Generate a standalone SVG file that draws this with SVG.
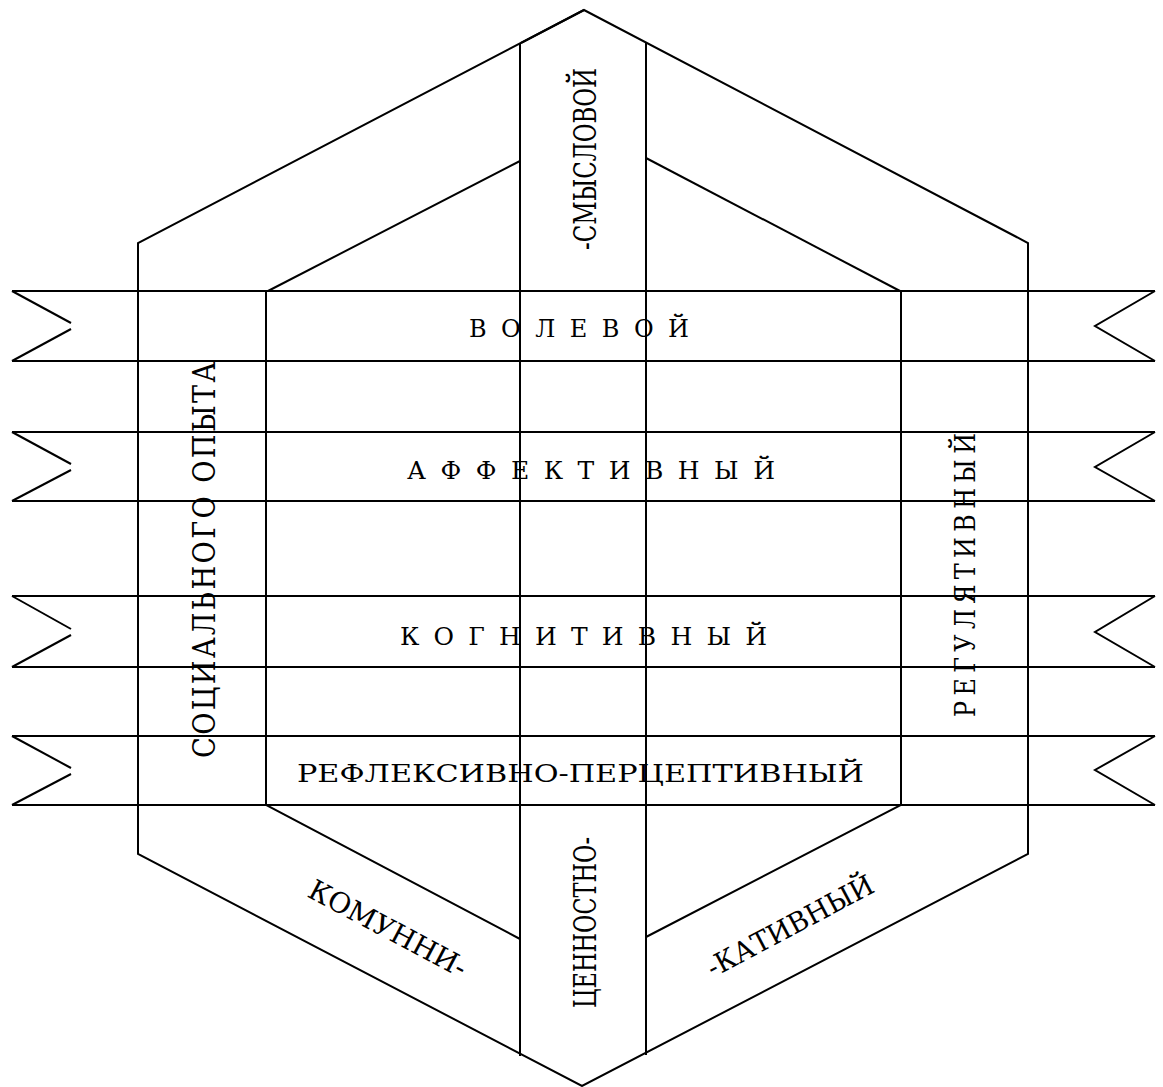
<svg xmlns="http://www.w3.org/2000/svg" width="1163" height="1087" viewBox="0 0 1163 1087">
<style>
.ln{fill:none;stroke:#000;stroke-width:2;stroke-linejoin:miter}
text{font-family:'DejaVu Serif',serif;fill:#000}
</style>
<rect width="1163" height="1087" fill="#fff"/>
<g id="connectors">
  <g id="outer-hexagon">
    <polygon class="ln" points="584,10 1028,243 1028,854 582,1086 138,854 138,243"/>
    <line class="ln" x1="584" y1="10" x2="521" y2="43" stroke-width="3"/>
  </g>
  <g id="inner-hexagon">
    <polyline class="ln" points="520,161 268,291"/>
    <polyline class="ln" points="266,291 266,805 520,939"/>
    <polyline class="ln" points="646,158 900,291"/>
    <polyline class="ln" points="901,291 901,805 646,937"/>
  </g>
  <g id="center-column">
    <line class="ln" x1="520" y1="43" x2="520" y2="1056"/>
    <line class="ln" x1="646" y1="43" x2="646" y2="1055"/>
  </g>
  <g id="bands">
    <g id="band-1">
      <line class="ln" x1="12" y1="291" x2="1155" y2="291"/>
      <line class="ln" x1="12" y1="361" x2="1155" y2="361"/>
      <polyline class="ln" points="12,291 71,323"/>
      <polyline class="ln" points="71,329 12,361"/>
      <polyline class="ln" points="1155,291 1095,326 1155,361"/>
    </g>
    <g id="band-2">
      <line class="ln" x1="12" y1="432" x2="1155" y2="432"/>
      <line class="ln" x1="12" y1="501" x2="1155" y2="501"/>
      <polyline class="ln" points="12,432 71,464"/>
      <polyline class="ln" points="71,470 12,501"/>
      <polyline class="ln" points="1155,432 1095,467 1155,501"/>
    </g>
    <g id="band-3">
      <line class="ln" x1="12" y1="596" x2="1155" y2="596"/>
      <line class="ln" x1="12" y1="667" x2="1155" y2="667"/>
      <polyline class="ln" points="12,596 71,629"/>
      <polyline class="ln" points="71,635 12,667"/>
      <polyline class="ln" points="1155,596 1095,632 1155,667"/>
    </g>
    <g id="band-4">
      <line class="ln" x1="12" y1="736" x2="1155" y2="736"/>
      <line class="ln" x1="12" y1="805" x2="1155" y2="805"/>
      <polyline class="ln" points="12,736 71,768"/>
      <polyline class="ln" points="71,774 12,805"/>
      <polyline class="ln" points="1155,736 1095,770 1155,805"/>
    </g>
  </g>
</g>
<g id="node-volevoy"><text x="469" y="337" font-size="24" textLength="220" lengthAdjust="spacing">ВОЛЕВОЙ</text></g>
<g id="node-affektivny"><text x="407" y="479" font-size="25" textLength="368" lengthAdjust="spacing">АФФЕКТИВНЫЙ</text></g>
<g id="node-kognitivny"><text x="400" y="645" font-size="25" textLength="367" lengthAdjust="spacing">КОГНИТИВНЫЙ</text></g>
<g id="node-refleksivno"><text x="297" y="782" font-size="24" textLength="567" lengthAdjust="spacingAndGlyphs">РЕФЛЕКСИВНО-ПЕРЦЕПТИВНЫЙ</text></g>
<g id="node-socialnogo"><text transform="translate(215,758) rotate(-90) scale(0.85,1)" x="0" y="0" font-size="32" textLength="466" lengthAdjust="spacing">СОЦИАЛЬНОГО ОПЫТА</text></g>
<g id="node-regulyativny"><text transform="translate(975,717) rotate(-90) scale(0.85,1)" x="0" y="0" font-size="28" textLength="334" lengthAdjust="spacing">РЕГУЛЯТИВНЫЙ</text></g>
<g id="node-smyslovoy"><text transform="translate(596,250) rotate(-90)" x="0" y="0" font-size="31" textLength="182" lengthAdjust="spacingAndGlyphs">-СМЫСЛОВОЙ</text></g>
<g id="node-cennostno"><text transform="translate(596,1008) rotate(-90)" x="0" y="0" font-size="31" textLength="171" lengthAdjust="spacingAndGlyphs">ЦЕННОСТНО-</text></g>
<g id="node-komunni"><text transform="translate(306,896) rotate(28)" x="0" y="0" font-size="28" textLength="175" lengthAdjust="spacingAndGlyphs">КОМУННИ-</text></g>
<g id="node-kativny"><text transform="translate(713,978) rotate(-28)" x="0" y="0" font-size="28" textLength="185" lengthAdjust="spacingAndGlyphs">-КАТИВНЫЙ</text></g>
</svg>
